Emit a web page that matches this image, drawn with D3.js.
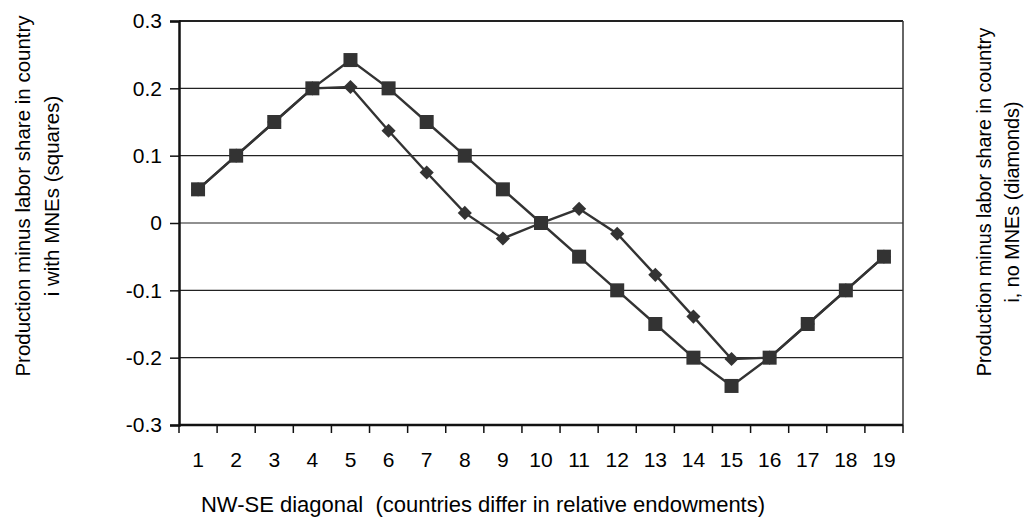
<!DOCTYPE html>
<html><head><meta charset="utf-8">
<script src="https://cdn.jsdelivr.net/npm/d3@7"></script>
<style>body{margin:0;background:#fff}svg{display:block}</style>
</head><body>
<svg id="c" width="1024" height="519"></svg>
<script>
const categories = [1,2,3,4,5,6,7,8,9,10,11,12,13,14,15,16,17,18,19];
const withMNEs = [0.05,0.10,0.15,0.20,0.242,0.20,0.15,0.10,0.05,0,-0.05,-0.10,-0.15,-0.20,-0.242,-0.20,-0.15,-0.10,-0.05];
const noMNEs = [0.05,0.10,0.15,0.20,0.202,0.137,0.075,0.015,-0.023,0,0.021,-0.016,-0.077,-0.139,-0.202,-0.20,-0.15,-0.10,-0.05];
const yTicks = [-0.3,-0.2,-0.1,0,0.1,0.2,0.3];
const yTickLabels = ["-0.3","-0.2","-0.1","0","0.1","0.2","0.3"];

const svg = d3.select("#c");
const L=179, R=903, T=21, B=425;
const col="#333";
const x = d3.scaleBand().domain(categories).range([L,R]);
const y = d3.scaleLinear().domain([-0.3,0.3]).range([B,T]);
const font="'Liberation Sans', Arial, sans-serif";

// gridlines
svg.append("g").selectAll("line").data(yTicks.filter(v=>v>-0.3 && v<0.3)).join("line")
  .attr("x1",L).attr("x2",R).attr("y1",d=>y(d)).attr("y2",d=>y(d))
  .attr("stroke","#222").attr("stroke-width",1.2);
// frame top/right
svg.append("line").attr("x1",L).attr("x2",R).attr("y1",T).attr("y2",T).attr("stroke","#222").attr("stroke-width",2);
svg.append("line").attr("x1",R).attr("x2",R).attr("y1",T).attr("y2",B).attr("stroke","#333").attr("stroke-width",1.5);

// y axis
const ya = svg.append("g").attr("transform",`translate(${L},0)`)
  .call(d3.axisLeft(y).tickValues(yTicks).tickFormat((d,i)=>yTickLabels[i]).tickSize(9).tickPadding(8));
ya.select(".domain").attr("stroke","#111").attr("stroke-width",2.5);
ya.selectAll(".tick line").attr("stroke","#111").attr("stroke-width",1.5);
ya.selectAll("text").attr("font-family",font).attr("font-size",21).attr("fill","#000");

// x axis
const xa = svg.append("g").attr("transform",`translate(0,${B})`)
  .call(d3.axisBottom(x).tickSize(0).tickPadding(0));
xa.select(".domain").remove();
xa.selectAll(".tick text").attr("dy",null).attr("y",42);
xa.append("line").attr("x1",L).attr("x2",R).attr("stroke","#111").attr("stroke-width",2.5);
xa.selectAll("line.tk").data(d3.range(categories.length+1)).join("line").attr("class","tk")
  .attr("x1",i=>L+i*x.step()).attr("x2",i=>L+i*x.step()).attr("y1",0).attr("y2",8)
  .attr("stroke","#111").attr("stroke-width",1.5);
xa.selectAll("text").attr("font-family",font).attr("font-size",21).attr("fill","#000");

const cx = d=>x(d)+x.bandwidth()/2;
const line = d3.line().x((d,i)=>cx(categories[i])).y(d=>y(d));
svg.append("path").datum(noMNEs).attr("d",line).attr("fill","none").attr("stroke",col).attr("stroke-width",2.4);
svg.append("path").datum(withMNEs).attr("d",line).attr("fill","none").attr("stroke",col).attr("stroke-width",2.4);

svg.append("g").selectAll("rect").data(noMNEs).join("rect")
  .attr("x",-5).attr("y",-5).attr("width",10).attr("height",10)
  .attr("transform",(d,i)=>`translate(${cx(categories[i])},${y(d)}) rotate(45)`)
  .attr("fill",col);
svg.append("g").selectAll("rect").data(withMNEs).join("rect")
  .attr("x",(d,i)=>cx(categories[i])-7).attr("y",d=>y(d)-7).attr("width",14).attr("height",14)
  .attr("fill",col);

// titles
svg.append("text").attr("x",483).attr("y",512).attr("text-anchor","middle")
  .attr("font-family",font).attr("font-size",22).style("white-space","pre")
  .text("NW-SE diagonal  (countries differ in relative endowments)");
const lt = svg.append("text").attr("transform","translate(30,196) rotate(-90)").attr("text-anchor","middle")
  .attr("font-family",font).attr("font-size",20.5);
lt.append("tspan").attr("x",0).attr("dy",0).text("Production minus labor share in country");
lt.append("tspan").attr("x",0).attr("dy",29).text("i with MNEs (squares)");
const rt = svg.append("text").attr("transform","translate(991,202) rotate(-90)").attr("text-anchor","middle")
  .attr("font-family",font).attr("font-size",19.8);
rt.append("tspan").attr("x",0).attr("dy",0).text("Production minus labor share in country");
rt.append("tspan").attr("x",0).attr("dy",28).text("i, no MNEs (diamonds)");
</script>
</body></html>
